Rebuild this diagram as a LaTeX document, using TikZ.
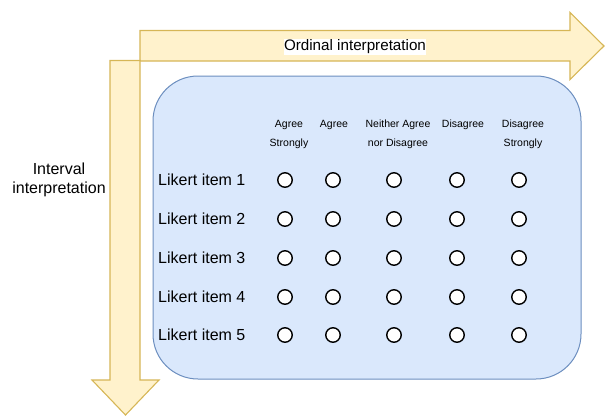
\documentclass[tikz,border=0pt]{standalone}
\usepackage{fontspec}
\setmainfont{Liberation Sans}
\definecolor{arrowfill}{HTML}{FFF2CC}
\definecolor{arrowline}{HTML}{D6B656}
\definecolor{boxfill}{HTML}{DAE8FC}
\definecolor{boxline}{HTML}{6C8EBF}
\tikzset{
  bigarrow/.style={fill=arrowfill, draw=arrowline, line width=1.1pt, line join=miter},
  panel/.style={fill=boxfill, draw=boxline, line width=1pt, rounded corners=45pt},
  itemlabel/.style={anchor=west, inner sep=0pt, font=\fontsize{16}{19}\selectfont},
  headlabel/.style={align=center, inner sep=0pt, font=\fontsize{10.5}{19}\selectfont},
  radio/.style={circle, draw=black, fill=white, line width=1.4pt, minimum size=14.5pt, inner sep=0pt},
  axislabel/.style={align=center, inner sep=0.5pt, font=\fontsize{16}{19}\selectfont}
}
\begin{document}
\begin{tikzpicture}[x=1pt,y=-1pt]
\useasboundingbox (0,0) rectangle (605,416);
% horizontal arrow
\draw[bigarrow] (140,30.5) -- (570,30.5) -- (570,12.5) -- (604,46) -- (570,79.5) -- (570,61) -- (140,61) -- cycle;
% vertical arrow
\draw[bigarrow] (110,60.5) -- (140,60.5) -- (140,380) -- (159,380) -- (125.5,415) -- (92,380) -- (110,380) -- cycle;
% panel
\draw[panel] (153,76) rectangle (581,379);
% axis labels
\node[axislabel, fill=white, font=\fontsize{15.2}{18}\selectfont] (ordinal) at (355,47) {Ordinal interpretation};
\node[axislabel] (interval) at (59,179.5) {Interval\\interpretation};
% headers
\node[headlabel] (h1) at (289,134.5) {Agree\\Strongly};
\node[headlabel] (h2) at (334,125) {Agree};
\node[headlabel] (h3) at (398,134.5) {Neither Agree\\nor Disagree};
\node[headlabel] (h4) at (463,125) {Disagree};
\node[headlabel] (h5) at (523,134.5) {Disagree\\Strongly};
% items
\foreach \i/\y in {1/180,2/219,3/258,4/297,5/335}{
  \node[itemlabel] (item\i) at (158,\y) {Likert item \i};
  \foreach \j/\x in {1/285,2/333,3/394,4/457,5/519}{
    \node[radio] (c\i\j) at (\x,\y) {};
  }
}
\end{tikzpicture}
\end{document}
